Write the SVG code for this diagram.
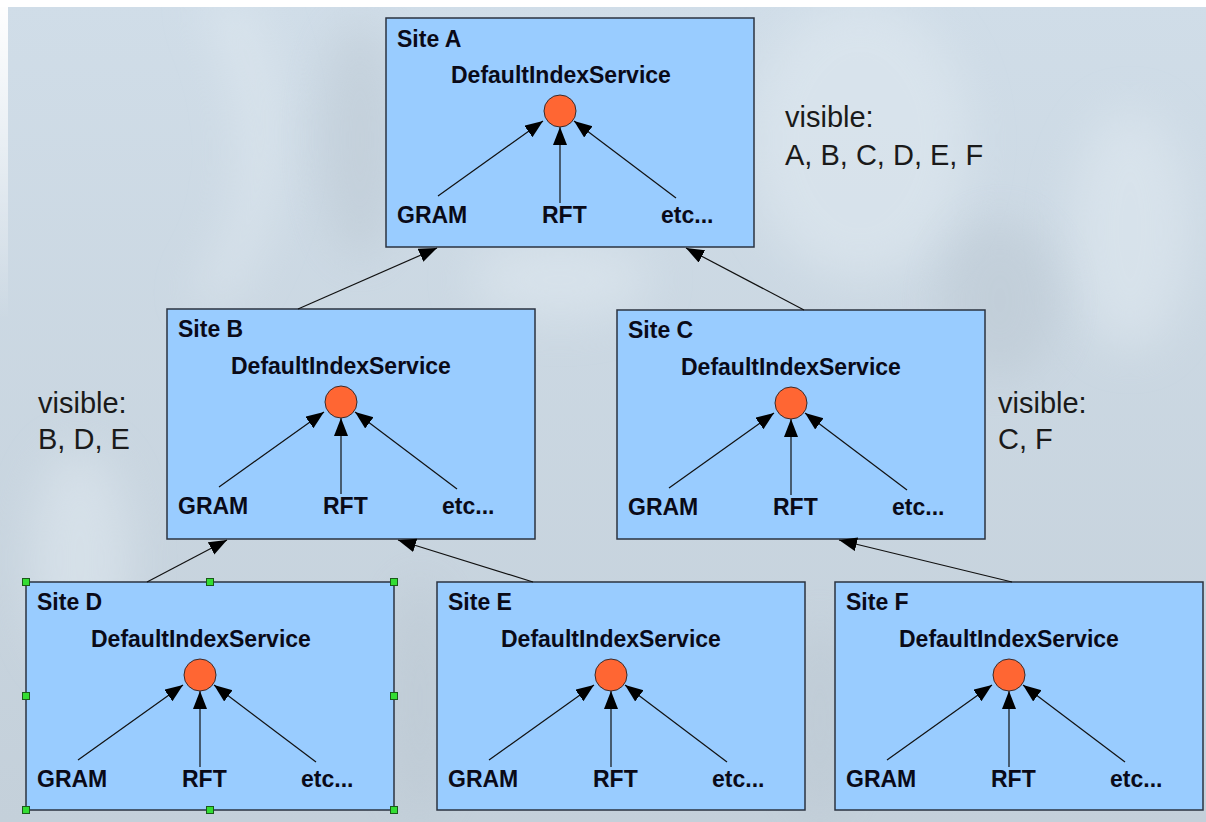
<svg xmlns="http://www.w3.org/2000/svg" width="1206" height="822" viewBox="0 0 1206 822">
<defs>
<style>
.box{fill:#99ccff;stroke:#2b3340;stroke-width:1.5}
.t{font-family:"Liberation Sans",Arial,sans-serif;font-weight:bold;font-size:23px;fill:#0a0a18}
.v{font-family:"Liberation Sans",Arial,sans-serif;font-size:29px;fill:#1a1a1a}
.svc{fill:#ff6633;stroke:#3a2a2a;stroke-width:1}
.ln{stroke:#111;stroke-width:1.2;fill:none;marker-end:url(#ah)}
.h{fill:#33dd33;stroke:#1a5a1a;stroke-width:1}
</style>
<marker id="ah" markerUnits="userSpaceOnUse" markerWidth="20" markerHeight="16" refX="18" refY="7" orient="auto"><path d="M0,0 L18,7 L0,14 z" fill="#000"/></marker>
<linearGradient id="bg" x1="0" y1="0" x2="0" y2="1">
<stop offset="0" stop-color="#d0dde8"/>
<stop offset="1" stop-color="#c4d0da"/>
</linearGradient>
<linearGradient id="leftfade" x1="0" y1="0" x2="0" y2="1">
<stop offset="0" stop-color="#ffffff" stop-opacity="1"/>
<stop offset="1" stop-color="#ffffff" stop-opacity="0"/>
</linearGradient>
<filter id="blur" x="-50%" y="-50%" width="200%" height="200%"><feGaussianBlur stdDeviation="22"/></filter>
</defs>
<g id="background">
<rect width="1206" height="822" fill="url(#bg)"/>
<g filter="url(#blur)" fill="#e2ebf2" opacity="0.5">
<path d="M200,0 C260,120 250,220 190,300 L230,300 C290,210 300,110 250,0 z"/>
<ellipse cx="860" cy="140" rx="110" ry="140"/>
<ellipse cx="1130" cy="230" rx="60" ry="120"/>
<ellipse cx="560" cy="280" rx="90" ry="40"/>
<ellipse cx="80" cy="560" rx="50" ry="110"/>
</g>
<g filter="url(#blur)" fill="#b8c4cf" opacity="0.45">
<ellipse cx="360" cy="140" rx="40" ry="120"/>
<ellipse cx="1000" cy="300" rx="60" ry="80"/>
<ellipse cx="420" cy="700" rx="30" ry="120"/>
<ellipse cx="820" cy="720" rx="30" ry="100"/>
</g>
<rect x="0" y="0" width="1206" height="7" fill="#ffffff"/>
<rect x="0" y="0" width="8" height="320" fill="url(#leftfade)"/>
</g>

<g id="site-a" transform="translate(386,18)">
<rect class="box" width="368" height="229"/>
<text class="t" x="11" y="29">Site A</text>
<text class="t" x="65" y="65">DefaultIndexService</text>
<line class="ln" x1="52" y1="178" x2="157" y2="103"/>
<line class="ln" x1="174" y1="185" x2="174" y2="109"/>
<line class="ln" x1="290" y1="180" x2="188" y2="103"/>
<circle class="svc" cx="174" cy="93" r="16"/>
<text class="t" x="11" y="205">GRAM</text>
<text class="t" x="156" y="205">RFT</text>
<text class="t" x="275" y="205">etc...</text>
</g>

<g id="site-b" transform="translate(167,309)">
<rect class="box" width="368" height="230"/>
<text class="t" x="11" y="28">Site B</text>
<text class="t" x="64" y="65">DefaultIndexService</text>
<line class="ln" x1="52" y1="178" x2="157" y2="103"/>
<line class="ln" x1="174" y1="185" x2="174" y2="109"/>
<line class="ln" x1="290" y1="180" x2="188" y2="103"/>
<circle class="svc" cx="174" cy="93" r="16"/>
<text class="t" x="11" y="205">GRAM</text>
<text class="t" x="156" y="205">RFT</text>
<text class="t" x="275" y="205">etc...</text>
</g>

<g id="site-c" transform="translate(617,310)">
<rect class="box" width="368" height="229"/>
<text class="t" x="11" y="28">Site C</text>
<text class="t" x="64" y="65">DefaultIndexService</text>
<line class="ln" x1="52" y1="178" x2="157" y2="103"/>
<line class="ln" x1="174" y1="185" x2="174" y2="109"/>
<line class="ln" x1="290" y1="180" x2="188" y2="103"/>
<circle class="svc" cx="174" cy="93" r="16"/>
<text class="t" x="11" y="205">GRAM</text>
<text class="t" x="156" y="205">RFT</text>
<text class="t" x="275" y="205">etc...</text>
</g>

<g id="site-d" transform="translate(26,582)">
<rect class="box" width="368" height="228"/>
<text class="t" x="11" y="28">Site D</text>
<text class="t" x="65" y="65">DefaultIndexService</text>
<line class="ln" x1="52" y1="178" x2="157" y2="103"/>
<line class="ln" x1="174" y1="185" x2="174" y2="109"/>
<line class="ln" x1="290" y1="180" x2="188" y2="103"/>
<circle class="svc" cx="174" cy="93" r="16"/>
<text class="t" x="11" y="205">GRAM</text>
<text class="t" x="156" y="205">RFT</text>
<text class="t" x="275" y="205">etc...</text>
</g>

<g id="site-e" transform="translate(437,582)">
<rect class="box" width="368" height="228"/>
<text class="t" x="11" y="28">Site E</text>
<text class="t" x="64" y="65">DefaultIndexService</text>
<line class="ln" x1="52" y1="178" x2="157" y2="103"/>
<line class="ln" x1="174" y1="185" x2="174" y2="109"/>
<line class="ln" x1="290" y1="180" x2="188" y2="103"/>
<circle class="svc" cx="174" cy="93" r="16"/>
<text class="t" x="11" y="205">GRAM</text>
<text class="t" x="156" y="205">RFT</text>
<text class="t" x="275" y="205">etc...</text>
</g>

<g id="site-f" transform="translate(835,582)">
<rect class="box" width="368" height="228"/>
<text class="t" x="11" y="28">Site F</text>
<text class="t" x="64" y="65">DefaultIndexService</text>
<line class="ln" x1="52" y1="178" x2="157" y2="103"/>
<line class="ln" x1="174" y1="185" x2="174" y2="109"/>
<line class="ln" x1="290" y1="180" x2="188" y2="103"/>
<circle class="svc" cx="174" cy="93" r="16"/>
<text class="t" x="11" y="205">GRAM</text>
<text class="t" x="156" y="205">RFT</text>
<text class="t" x="275" y="205">etc...</text>
</g>

<g id="connectors">
<line class="ln" x1="298" y1="309" x2="437" y2="248"/>
<line class="ln" x1="804" y1="310" x2="686" y2="248"/>
<line class="ln" x1="147" y1="582" x2="227" y2="540"/>
<line class="ln" x1="533" y1="582" x2="398" y2="540"/>
<line class="ln" x1="1012" y1="582" x2="839" y2="540"/>
</g>

<g id="selection-handles">
<rect class="h" x="22.5" y="578.5" width="7" height="7"/>
<rect class="h" x="206.5" y="578.5" width="7" height="7"/>
<rect class="h" x="390.5" y="578.5" width="7" height="7"/>
<rect class="h" x="22.5" y="692.5" width="7" height="7"/>
<rect class="h" x="390.5" y="692.5" width="7" height="7"/>
<rect class="h" x="22.5" y="806.5" width="7" height="7"/>
<rect class="h" x="206.5" y="806.5" width="7" height="7"/>
<rect class="h" x="390.5" y="806.5" width="7" height="7"/>
</g>

<g id="visibility-labels">
<text class="v" x="785" y="127">visible:</text>
<text class="v" x="785" y="165">A, B, C, D, E, F</text>
<text class="v" x="38" y="413">visible:</text>
<text class="v" x="38" y="449">B, D, E</text>
<text class="v" x="998" y="413">visible:</text>
<text class="v" x="998" y="449">C, F</text>
</g>
</svg>
